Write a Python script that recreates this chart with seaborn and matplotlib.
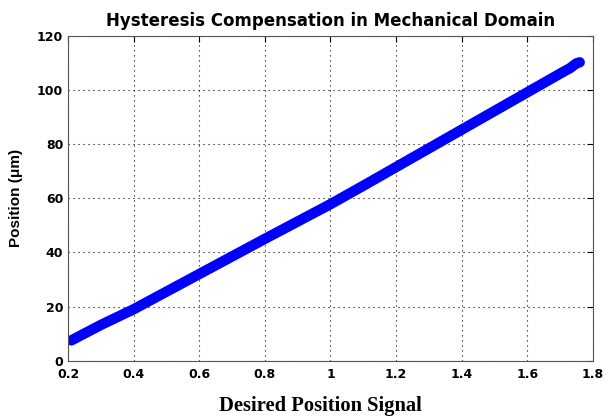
import numpy as np
import pandas as pd
import matplotlib
matplotlib.use("Agg")
import matplotlib.pyplot as plt
import seaborn as sns

# values
signal = [0.21, 0.30, 0.40, 0.50, 0.60, 0.70, 0.80, 0.90, 1.00, 1.10, 1.20,
          1.30, 1.40, 1.50, 1.60, 1.70, 1.73, 1.75, 1.76]
position = [7.5, 13.2, 19.0, 25.5, 32.0, 38.5, 45.0, 51.4, 57.8, 64.6, 71.5,
            78.4, 85.3, 92.2, 99.1, 106.0, 108.0, 109.8, 110.2]
x_ticks = [0.2, 0.4, 0.6, 0.8, 1, 1.2, 1.4, 1.6, 1.8]
x_tick_labels = ["0.2", "0.4", "0.6", "0.8", "1", "1.2", "1.4", "1.6", "1.8"]
y_ticks = [0, 20, 40, 60, 80, 100, 120]

df = pd.DataFrame({"signal": signal, "position": position})

sns.set_style("white")
plt.rcParams["font.family"] = ["DejaVu Sans"]
plt.rcParams["text.color"] = "black"
plt.rcParams["xtick.color"] = "black"
plt.rcParams["ytick.color"] = "black"
plt.rcParams["axes.labelcolor"] = "black"

fig = plt.figure(figsize=(6.08, 4.16), dpi=100)
ax = fig.add_axes([0.112, 0.133, 0.863, 0.781])

sns.lineplot(data=df, x="signal", y="position", ax=ax, color="#0000ff",
             linewidth=7.5, solid_capstyle="round", sort=False)

ax.set_xlim(0.2, 1.8)
ax.set_ylim(0, 120)
ax.set_xticks(x_ticks)
ax.set_xticklabels(x_tick_labels)
ax.set_yticks(y_ticks)
ax.grid(True, color="black", linestyle=(0, (1, 3.5)), linewidth=0.8)
ax.tick_params(direction="in", length=4, labelsize=9, width=0.8,
               top=True, right=True, colors="black")
ax.tick_params(axis="x", pad=5)
for lbl in ax.get_xticklabels() + ax.get_yticklabels():
    lbl.set_fontweight("bold")
for s in ax.spines.values():
    s.set_color("#555555")
    s.set_linewidth(0.8)

ax.set_title("Hysteresis Compensation in Mechanical Domain",
             fontsize=12, fontweight="bold", pad=7, color="black")
ax.set_ylabel("Position (μm)", fontsize=11, fontweight="bold", labelpad=10,
              family=["Liberation Sans", "DejaVu Sans"], color="black")
ax.set_xlabel("")
fig.text(0.527, 0.012, "Desired Position Signal", ha="center", va="baseline",
         family="Liberation Serif", fontsize=14.8, fontweight="bold",
         color="black")

fig.savefig("out.png", dpi=100)
